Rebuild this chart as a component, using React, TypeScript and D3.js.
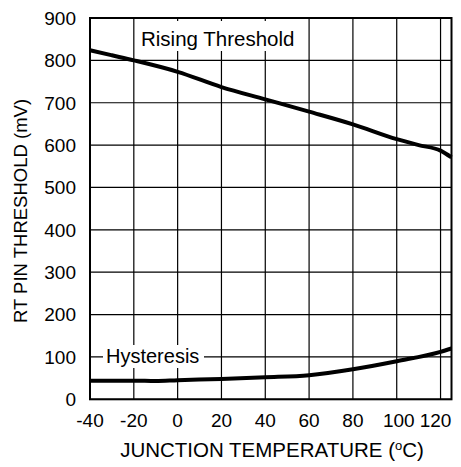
import React from "react";
import * as d3 from "d3";

const risingTemps = [-40, -30, -20, 0, 20, 40, 60, 80, 100, 110, 120, 125];
const risingValues = [824, 812, 800, 773, 737, 708, 679, 649, 614, 600, 587, 571];

const hystTemps = [-40, -20, -10, 0, 20, 40, 60, 80, 100, 120, 125];
const hystValues = [44, 44, 43, 45, 48, 52, 57, 71, 90, 112, 120];

const xTicks = [-40, -20, 0, 20, 40, 60, 80, 100, 120];
const yTicks = [0, 100, 200, 300, 400, 500, 600, 700, 800, 900];

const W = 461;
const H = 467;
const L = 90;
const R = 451.5;
const T = 18;
const B = 399.3;
const FONT = "'Liberation Sans', Arial, Helvetica, sans-serif";

export default function App() {
  const x = d3.scaleLinear().domain([-40, 125]).range([L, R]);
  const y = d3.scaleLinear().domain([0, 900]).range([B, T]);

  const line = d3
    .line<[number, number]>()
    .x((d) => x(d[0]))
    .y((d) => y(d[1]))
    .curve(d3.curveMonotoneX);

  const rising = risingTemps.map((t, i) => [t, risingValues[i]] as [number, number]);
  const hyst = hystTemps.map((t, i) => [t, hystValues[i]] as [number, number]);

  return (
    <svg
      width={W}
      height={H}
      style={{ position: "absolute", left: 0, top: 0, background: "#fff" }}
      fontFamily={FONT}
    >
      <rect x={0} y={0} width={W} height={H} fill="#fff" />
      {xTicks.map((t) => (
        <line key={"vx" + t} x1={x(t)} x2={x(t)} y1={T} y2={B} stroke="#000" strokeWidth={1.2} />
      ))}
      {yTicks.map((t) => (
        <line key={"hy" + t} x1={L} x2={R} y1={y(t)} y2={y(t)} stroke="#000" strokeWidth={1.2} />
      ))}
      <rect x={136} y={21} width={164} height={30} fill="#fff" />
      <rect x={103} y={345} width={101} height={23} fill="#fff" />
      <text x={141} y={46} fontSize={20.5} fill="#000">Rising Threshold</text>
      <text x={106} y={363} fontSize={20} fill="#000">Hysteresis</text>
      <path d={line(rising) || ""} fill="none" stroke="#000" strokeWidth={4} />
      <path d={line(hyst) || ""} fill="none" stroke="#000" strokeWidth={4} />
      <rect x={L} y={T} width={R - L} height={B - T} fill="none" stroke="#000" strokeWidth={2} />
      {yTicks.map((t) => (
        <text key={"yl" + t} x={76} y={y(t)} dy="0.36em" fontSize={19} textAnchor="end" fill="#000">
          {t}
        </text>
      ))}
      {xTicks.map((t) => (
        <text
          key={"xl" + t}
          x={x(t) - (t === 120 ? 5 : t === 100 ? -2 : 0)}
          y={427}
          fontSize={19}
          textAnchor="middle"
          fill="#000"
        >
          {t}
        </text>
      ))}
      <text x={272} y={457} fontSize={20.5} textAnchor="middle" fill="#000">
        JUNCTION TEMPERATURE (
        <tspan fontSize={13} dy={-7}>o</tspan>
        <tspan dy={7}>C)</tspan>
      </text>
      <text
        transform={`translate(27,${211}) rotate(-90)`}
        fontSize={18.5}
        textAnchor="middle"
        fill="#000"
      >
        RT PIN THRESHOLD (mV)
      </text>
    </svg>
  );
}
